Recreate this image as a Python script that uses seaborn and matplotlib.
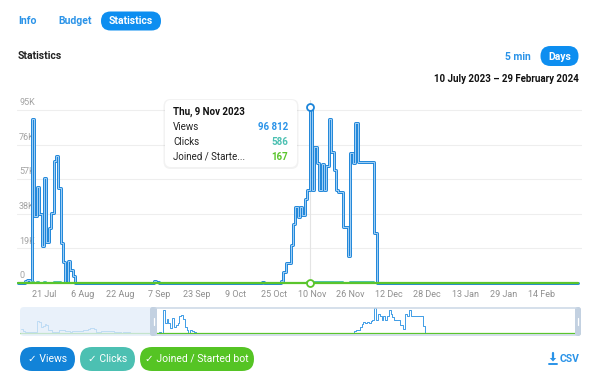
import pandas as pd
import matplotlib
matplotlib.use("Agg")
import matplotlib.pyplot as plt
import matplotlib.transforms as mtransforms
from matplotlib.patches import FancyBboxPatch, Polygon
from matplotlib.lines import Line2D
import seaborn as sns

W, H = 600, 382
START = pd.Timestamp("2023-07-10")

# daily views, 10 Jul 2023 .. 29 Feb 2024
views = [
    0, 0, 0, 1200, 1600, 1000, 89900, 36800, 52900, 37900, 20500, 57500,
    22300, 30400, 38600, 67000, 69700, 52000, 21800, 11700, 600, 12200, 7100, 3800,
    0, 0, 0, 0, 0, 0, 0, 0, 0, 0, 0, 0, 0, 0, 0, 0, 0,
    0, 0, 0, 0, 0, 0, 0, 0, 0, 0, 0, 0, 0, 0, 0, 0,
    900, 700,
    0, 0, 0, 0, 0, 0, 0, 0, 0, 0, 0, 0, 0, 0, 0, 0, 0, 0, 0, 0, 0, 0,
    0, 0, 0, 0, 0, 0, 0, 0, 0, 0, 0, 0, 0, 0, 0, 0, 0, 0, 0, 0, 0,
    800,
    0, 0, 0, 0, 0, 0, 0,
    1000, 6200, 11000, 11000, 21000, 32500, 42000, 36500, 42000, 37500,
    46000, 51000, 96812, 51000, 74800, 65700, 51000, 65300, 51000, 64000,
    89900, 72000, 62000, 51000, 50000, 50000, 31000, 31000, 15000, 71600,
    66000, 88000, 66600, 66600, 66600, 66600, 66600, 66600, 66600, 27600,
    0, 0, 0, 0, 0, 0, 0, 0, 0, 0, 0, 0, 0, 0, 0, 0, 0, 0, 0, 0, 0,
    0, 0, 0, 0, 0, 0, 0, 0, 0, 0, 0, 0, 0, 0, 0, 0, 0, 0, 0, 0, 0,
    0, 0, 0, 0, 0, 0, 0, 0, 0, 0, 0, 0, 0, 0, 0, 0, 0, 0, 0, 0, 0,
    0, 0, 0, 0, 0, 0, 0, 0, 0, 0, 0, 0, 0, 0, 0, 0, 0, 0, 0, 0, 0,
    0,
]

# views before 10 Jul (only visible in the navigator), 29 Apr .. 9 Jul
history = [
    15000, 9000,
    3000, 2500, 3500, 2000, 3000, 2500, 4000,
    46000, 41000, 23000, 25000, 33000, 31000, 13000, 12000,
    4000, 3500, 5000, 4000, 13000, 11000, 12500,
    8000, 6000, 8500, 5000, 7500, 8000, 6500, 8000, 5500, 7000,
    13000, 11000, 12000, 13500, 20000, 18000, 15000, 4000, 3000, 4500,
    8000, 7000, 8500, 6500, 7500, 8000, 6000, 5000,
    2500, 2000, 3000, 1500, 2500, 2000, 1800, 2200, 1500, 1000, 800,
    500, 300, 0, 0, 0, 0, 0, 0, 0,
]

active_days = [6, 7, 8, 9, 10, 11, 12, 13, 14, 15, 16, 17, 18, 19, 20, 21, 22, 23] + list(range(111, 150))
clicks_vals = [
    520, 210, 310, 220, 120, 340, 130, 180, 230, 400, 410, 300, 130, 70, 0, 70, 40, 20,
    40, 65, 65, 125, 190, 250, 215, 250, 220, 270, 300, 586, 300, 440, 390, 300, 385,
    300, 380, 530, 425, 365, 300, 295, 295, 180, 180, 90, 420, 390, 520, 390, 390,
    390, 390, 390, 390, 390, 160,
]
joined_vals = [
    150, 60, 90, 60, 35, 100, 40, 50, 65, 115, 120, 85, 40, 20, 0, 20, 10, 5,
    10, 20, 20, 35, 55, 70, 60, 70, 65, 80, 90, 167, 90, 130, 110, 90, 110,
    90, 110, 150, 120, 105, 90, 85, 85, 50, 50, 25, 120, 110, 150, 110, 110,
    110, 110, 110, 110, 110, 45,
]

y_ticks = [0, 19000, 38000, 57000, 76000, 95000]
y_labels = ["0", "19K", "38K", "57K", "76K", "95K"]
x_tick_dates = ["2023-07-21", "2023-08-06", "2023-08-22", "2023-09-07", "2023-09-23",
                "2023-10-09", "2023-10-25", "2023-11-10", "2023-11-26", "2023-12-12",
                "2023-12-28", "2024-01-13", "2024-01-29", "2024-02-14"]
x_tick_labels = ["21 Jul", "6 Aug", "22 Aug", "7 Sep", "23 Sep", "9 Oct", "25 Oct",
                 "10 Nov", "26 Nov", "12 Dec", "28 Dec", "13 Jan", "29 Jan", "14 Feb"]

BLUE = "#1b84d9"
TEAL = "#4cc0b2"
GREEN = "#5ac52c"
LINK = "#2a93e8"

dates = pd.date_range(START, periods=len(views), freq="D")
df = pd.DataFrame({"date": dates, "views": views, "clicks": 0, "joined": 0})
df.loc[active_days, "clicks"] = clicks_vals
df.loc[active_days, "joined"] = joined_vals

hist_dates = pd.date_range(START - pd.Timedelta(days=len(history)), periods=len(history), freq="D")
nav_df = pd.concat([pd.DataFrame({"date": hist_dates, "views": history}),
                    df[["date", "views"]]], ignore_index=True)

sns.set_theme(style="white")
plt.rcParams["font.family"] = ["Roboto", "DejaVu Sans"]

fig = plt.figure(figsize=(6, 3.82), dpi=100)
fig.patch.set_facecolor("white")
# pixel coords, origin top-left
PX = mtransforms.Affine2D().scale(1 / W, -1 / H).translate(0, 1) + fig.transFigure


def pill(x0, y0, x1, y1, color, r=None, **kw):
    r = (y1 - y0) / 2 if r is None else r
    p = FancyBboxPatch((x0, y0), x1 - x0, y1 - y0,
                       boxstyle=f"round,pad=0,rounding_size={r}",
                       transform=PX, facecolor=color, edgecolor="none", **kw)
    fig.add_artist(p)


def label(x, y, s, **kw):
    kw.setdefault("va", "center")
    fig.text(x, y, s, transform=PX, **kw)


def day(d):
    return START + pd.Timedelta(days=d)


# header
label(18, 21, "Info", color=LINK, fontsize=7.5, fontweight="bold")
label(58, 21, "Budget", color=LINK, fontsize=7.5, fontweight="bold")
pill(101, 11.5, 161, 30.5, "#0d8ef0")
label(131, 21, "Statistics", color="white", fontsize=7.5, fontweight="bold", ha="center")
label(18, 56, "Statistics", color="#222222", fontsize=7.5, fontweight="bold")
label(518, 56.5, "5 min", color=LINK, fontsize=7.5, fontweight="bold", ha="center")
pill(540.5, 46, 578.5, 66, "#0d8ef0")
label(559.5, 56.5, "Days", color="white", fontsize=7.5, fontweight="bold", ha="center")
label(579, 79, "10 July 2023 \u2013 29 February 2024", color="#111111", fontsize=7,
      fontweight="bold", ha="right")

# main chart
ax = fig.add_axes([17 / W, 1 - 288 / H, 565 / W, 188 / H])
for v, lab in zip(y_ticks, y_labels):
    if v > 0:
        ax.axhline(v, color="#eeeeee", lw=0.8, zorder=1)
    ax.annotate(lab, xy=(0, v), xycoords=("axes fraction", "data"), xytext=(1.5, 2),
                textcoords="offset points", fontsize=6.5, color="#a3a3a3", va="bottom", zorder=2)

hover = day(122)
ax.axvline(hover, color="#e4e4e4", lw=0.8, zorder=2)
sns.lineplot(data=df, x="date", y="views", ax=ax, color=BLUE, lw=2.1,
             drawstyle="steps-post", zorder=3)
sns.lineplot(data=df, x="date", y="views", ax=ax, color="#b8dcfa", lw=0.6,
             drawstyle="steps-post", zorder=4)
sns.lineplot(data=df, x="date", y="clicks", ax=ax, color=TEAL, lw=1.4,
             drawstyle="steps-post", zorder=4)
sns.lineplot(data=df, x="date", y="joined", ax=ax, color=GREEN, lw=1.6,
             drawstyle="steps-post", zorder=5)
ax.plot([hover], [df.loc[122, "views"]], marker="o", ms=5, mfc="white", mec=BLUE, mew=1.3, zorder=7)
ax.plot([hover], [df.loc[122, "joined"]], marker="o", ms=5, mfc="white", mec=GREEN, mew=1.3, zorder=7)

ax.set_xlim(day(-0.25), day(235.76))
ax.set_ylim(-2746, 100491)
ax.set_xticks(pd.to_datetime(x_tick_dates))
ax.set_xticklabels(x_tick_labels, fontsize=6.5, color="#8f8f8f")
ax.set_yticks([])
ax.tick_params(axis="x", length=0, pad=1.5)
ax.set_xlabel("")
ax.set_ylabel("")
sns.despine(ax=ax, left=True, bottom=True)

# tooltip
pill(163.5, 99, 298.5, 169, "#000000", r=7, alpha=0.05)
pill(165, 100, 297, 167, "white", r=6)
label(173, 112, "Thu, 9 Nov 2023", color="#111111", fontsize=7, fontweight="bold")
label(173, 127.5, "Views", color="#222222", fontsize=7)
label(173, 142, "Clicks", color="#222222", fontsize=7)
label(173, 156.5, "Joined / Starte...", color="#222222", fontsize=7)
label(288, 127.5, "96 812", color=LINK, fontsize=7, fontweight="bold", ha="right")
label(288, 142, "586", color=TEAL, fontsize=7, fontweight="bold", ha="right")
label(288, 156.5, "167", color=GREEN, fontsize=7, fontweight="bold", ha="right")

# navigator
nav = fig.add_axes([20 / W, 1 - 336 / H, 561 / W, 29 / H])
sns.lineplot(data=nav_df, x="date", y="views", ax=nav, color="#3f9ce6", lw=0.7,
             drawstyle="steps-post")
nav.axhline(0, color=GREEN, lw=0.9)
nav.set_xlim(day(-72.5), day(235.5))
nav.set_ylim(-12000, 100000)
nav.set_xticks([])
nav.set_yticks([])
nav.set_xlabel("")
nav.set_ylabel("")
sns.despine(ax=nav, left=True, bottom=True)

pill(20, 307, 154, 336, "#e3eef9", r=4, alpha=0.78)
for yy in (307.7, 335.3):
    fig.add_artist(Line2D([155, 577], [yy, yy], transform=PX, color="#cad7e5", lw=1.1))
pill(150, 307, 157, 336, "#c3d1e1", r=2.5)
pill(575, 307, 581, 336, "#c3d1e1", r=2.5)
for xx in (153.5, 578):
    fig.add_artist(Line2D([xx, xx], [318, 325], transform=PX, color="white", lw=0.9))

# series toggles
pill(20, 347, 75, 371, "#1283d8")
label(47.5, 359, "\u2713 Views", color="white", fontsize=7.5, ha="center")
pill(80, 347, 135, 371, TEAL)
label(107.5, 359, "\u2713 Clicks", color="white", fontsize=7.5, ha="center")
pill(140, 347, 254, 371, "#55c424")
label(197, 359, "\u2713 Joined / Started bot", color="white", fontsize=7.5, ha="center")

# download icon (drawn as shapes) + CSV
fig.add_artist(Line2D([553, 553], [353, 359], transform=PX, color=LINK, lw=1.6))
fig.add_artist(Polygon([[549.8, 358], [556.2, 358], [553, 361.5]], closed=True,
                       transform=PX, facecolor=LINK, edgecolor="none"))
fig.add_artist(Line2D([549, 557], [363.5, 363.5], transform=PX, color=LINK, lw=1.4))
label(579, 359, "CSV", color=LINK, fontsize=7.5, fontweight="bold", ha="right")

fig.savefig("out.png", dpi=100)
